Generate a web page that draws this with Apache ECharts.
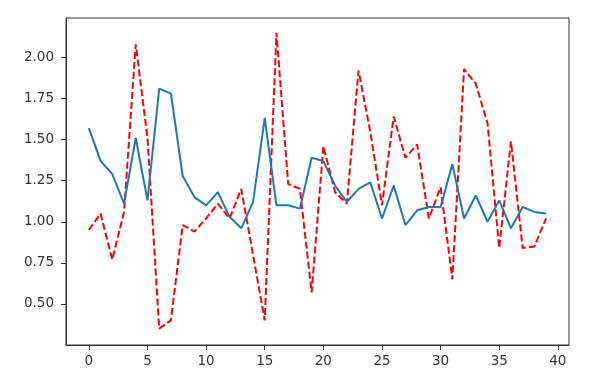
<!DOCTYPE html>
<html>
<head>
<meta charset="utf-8">
<script src="https://cdn.jsdelivr.net/npm/echarts@6/dist/echarts.min.js"></script>
<style>html,body{margin:0;padding:0;background:#fff}#c{width:589px;height:381px}</style>
</head>
<body>
<div id="c"></div>
<script>
var xValues = [0,1,2,3,4,5,6,7,8,9,10,11,12,13,14,15,16,17,18,19,20,21,22,23,24,25,26,27,28,29,30,31,32,33,34,35,36,37,38,39];
var blueSeries = [1.57,1.37,1.29,1.11,1.51,1.13,1.81,1.78,1.28,1.15,1.10,1.18,1.03,0.96,1.12,1.63,1.10,1.10,1.08,1.39,1.37,1.22,1.12,1.20,1.24,1.02,1.22,0.98,1.07,1.09,1.09,1.35,1.02,1.16,1.00,1.13,0.96,1.09,1.06,1.05];
var redSeries = [0.95,1.05,0.77,1.06,2.08,1.51,0.35,0.40,0.98,0.94,1.02,1.11,1.02,1.20,0.80,0.40,2.15,1.23,1.20,0.57,1.46,1.18,1.11,1.92,1.55,1.10,1.64,1.39,1.47,1.02,1.21,0.65,1.93,1.84,1.60,0.84,1.49,0.84,0.85,1.02];
var xTicks = [0,5,10,15,20,25,30,35,40];
var yTicks = [0.50,0.75,1.00,1.25,1.50,1.75,2.00];

function pairs(ys){ return xValues.map(function(x,i){ return [x, ys[i]]; }); }

var chart = echarts.init(document.getElementById('c'));
var font = 'DejaVu Sans';
chart.setOption({
  animation: false,
  grid: {left: 66, right: 20, top: 18, bottom: 36, show: true, borderColor: '#333', borderWidth: 1, backgroundColor: 'transparent'},
  xAxis: {
    type: 'value', min: -1.95, max: 40.95,
    axisLine: {show: true, onZero: false, lineStyle: {color: '#333'}},
    axisTick: {show: true, inside: false, length: 5, lineStyle: {color: '#333'}, customValues: xTicks},
    axisLabel: {color: '#333', fontFamily: font, fontSize: 13.5, margin: 9, customValues: xTicks},
    splitLine: {show: false}
  },
  yAxis: {
    type: 'value', min: 0.25, max: 2.24,
    axisLine: {show: true, onZero: false, lineStyle: {color: '#333'}},
    axisTick: {show: true, inside: false, length: 5, lineStyle: {color: '#333'}, customValues: yTicks},
    axisLabel: {color: '#333', fontFamily: font, fontSize: 13.5, margin: 12, customValues: yTicks,
      formatter: function(v){ return v.toFixed(2); }},
    splitLine: {show: false}
  },
  series: [
    {type: 'line', data: pairs(blueSeries), symbol: 'none', lineStyle: {color: '#1f77b4', width: 2}, z: 3},
    {type: 'line', data: pairs(redSeries), symbol: 'none', lineStyle: {color: '#ff0000', width: 2, type: [7, 3]}, z: 2}
  ]
});
</script>
</body>
</html>
